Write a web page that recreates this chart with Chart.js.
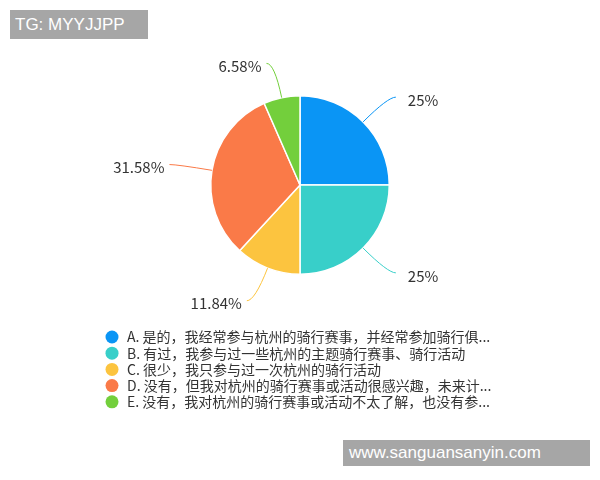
<!DOCTYPE html>
<html>
<head>
<meta charset="utf-8">
<script src="https://cdn.jsdelivr.net/npm/chart.js@4"></script>
<style>
  body { margin: 0; background: #fff; }
  #wrap { position: relative; width: 600px; height: 480px; }
  .marca { position: absolute; background: #a6a6a6; color: #fff; font-family: "Liberation Sans", Arial, sans-serif; box-sizing: border-box; white-space: nowrap; }
</style>
</head>
<body>
<div id="wrap">
  <canvas id="graficoPizza" width="600" height="480"></canvas>
  <div class="marca" style="left:10px;top:10px;width:138px;height:29px;line-height:29px;font-size:17px;padding-left:5px;">TG: MYYJJPP</div>
  <div class="marca" style="left:343px;top:440px;width:247px;height:26px;line-height:26px;font-size:17px;padding-left:6px;">www.sanguansanyin.com</div>
</div>
<script>
const categorias = [
  'A. 是的，我经常参与杭州的骑行赛事，并经常参加骑行俱...',
  'B. 有过，我参与过一些杭州的主题骑行赛事、骑行活动',
  'C. 很少，我只参与过一次杭州的骑行活动',
  'D. 没有，但我对杭州的骑行赛事或活动很感兴趣，未来计...',
  'E. 没有，我对杭州的骑行赛事或活动不太了解，也没有参...'
];
const percentuais = [25, 25, 11.84, 31.58, 6.58];
const cores = ['#0a95f5', '#38cfc9', '#fcc43f', '#fa7a48', '#73cf3c'];

// rotulos de fora com linha guia, estilo echarts
const rotuloExterno = {
  id: 'rotuloExterno',
  afterDatasetsDraw(chart) {
    const ctx = chart.ctx;
    const meta = chart.getDatasetMeta(0);
    meta.data.forEach((arco, i) => {
      const { x, y, outerRadius, startAngle, endAngle } = arco.getProps(['x', 'y', 'outerRadius', 'startAngle', 'endAngle'], true);
      const meio = (startAngle + endAngle) / 2;
      const cos = Math.cos(meio), sin = Math.sin(meio);
      const x0 = x + outerRadius * cos, y0 = y + outerRadius * sin;
      const x1 = x + (outerRadius + 35) * cos, y1 = y + (outerRadius + 35) * sin;
      const dir = cos >= 0 ? 1 : -1;
      const x2 = x1 + dir * 8;
      ctx.save();
      ctx.strokeStyle = cores[i];
      ctx.lineWidth = 1;
      ctx.beginPath();
      ctx.moveTo(x0, y0);
      ctx.quadraticCurveTo(x1, y1, x2, y1);
      ctx.stroke();
      ctx.fillStyle = '#333';
      ctx.font = '15px "Noto Sans CJK SC", sans-serif';
      ctx.textAlign = dir > 0 ? 'left' : 'right';
      ctx.textBaseline = 'middle';
      const folga = dir > 0 ? 12 : 5;
      ctx.fillText(`${percentuais[i]}%`, x2 + dir * folga, y1 + 3);
      ctx.restore();
    });
  }
};

const legendaLista = {
  id: 'legendaLista',
  afterDraw(chart) {
    const ctx = chart.ctx;
    ctx.save();
    ctx.font = '14px "Noto Sans CJK SC", sans-serif';
    ctx.textBaseline = 'middle';
    chart.data.labels.forEach((texto, i) => {
      const yy = 337 + i * 16.2;
      ctx.fillStyle = cores[i];
      ctx.beginPath();
      ctx.arc(112, yy, 6.5, 0, Math.PI * 2);
      ctx.fill();
      ctx.fillStyle = '#333';
      ctx.fillText(texto, 127, yy);
    });
    ctx.restore();
  }
};

new Chart(document.getElementById('graficoPizza'), {
  type: 'pie',
  data: {
    labels: categorias,
    datasets: [{
      data: percentuais,
      backgroundColor: cores,
      borderColor: '#fff',
      borderWidth: 1.5
    }]
  },
  options: {
    responsive: false,
    animation: false,
    events: [],
    layout: { padding: { top: 95, bottom: 205, left: 210, right: 210 } },
    plugins: {
      legend: { display: false },
      tooltip: { enabled: false }
    }
  },
  plugins: [rotuloExterno, legendaLista]
});
</script>
</body>
</html>
